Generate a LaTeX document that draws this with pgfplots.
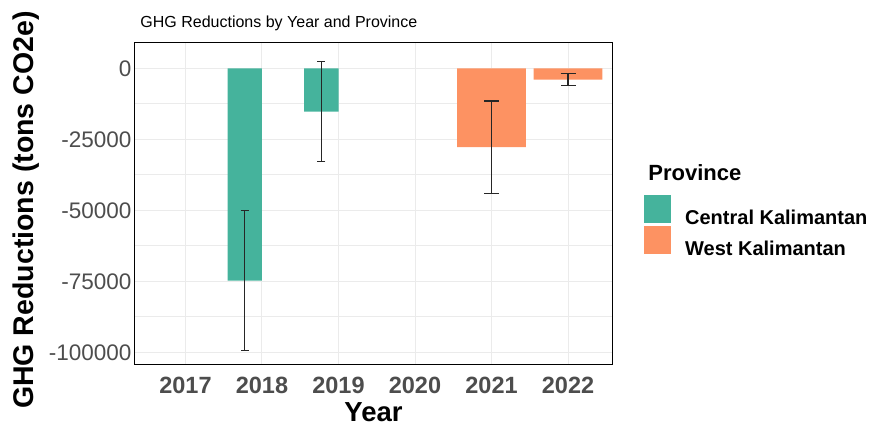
\documentclass[border=0pt]{standalone}
\usepackage{fontspec}
\setmainfont{Liberation Sans}
\usepackage{pgfplots}
\usepackage{pgfplotstable}
\pgfplotsset{compat=1.18}
\definecolor{cgreen}{HTML}{45B39C}
\definecolor{corange}{HTML}{FD9262}
\definecolor{tickgray}{HTML}{4D4D4D}
\definecolor{gridgray}{HTML}{EBEBEB}
\pgfplotstableread{
x y err
2017.775 -74800 24700
2018.775 -15300 17600
}\central
\pgfplotstableread{
x y err
2021 -27800 16300
2022 -4000 2150
}\west
\pgfplotsset{sqlegend/.style={legend image code/.code={\fill[##1,draw=none] (0pt,-5pt) rectangle (27pt,23pt); \path[fill=none,draw=none] (0pt,-5pt) rectangle (41pt,23pt);}}}
\begin{document}
\begin{tikzpicture}
\useasboundingbox (0,0) rectangle (872pt,428pt);
\begin{axis}[
  at={(135pt,63pt)}, anchor=south west,
  scale only axis, width=477pt, height=322pt,
  xmin=2016.34, xmax=2022.575,
  ymin=-104470, ymax=8900,
  scaled x ticks=false, scaled y ticks=false,
  xtick={2017,2018,2019,2020,2021,2022},
  xticklabels={2017,2018,2019,2020,2021,2022},
  ytick={-100000,-75000,-50000,-25000,0},
  yticklabels={-100000,-75000,-50000,-25000,0},
  minor ytick={-87500,-62500,-37500,-12500},
  grid=both,
  major grid style={gridgray, line width=1pt},
  minor grid style={gridgray, line width=0.8pt},
  major tick length=0pt, minor tick length=0pt,
  axis line style={black, line width=1pt},
  xticklabel style={font=\fontsize{23.5}{23.5}\selectfont\bfseries, text=tickgray, anchor=base, yshift=-29pt},
  yticklabel style={font=\fontsize{22.5}{22.5}\selectfont, text=tickgray},
  xlabel={Year},
  xlabel style={font=\fontsize{27.5}{27.5}\selectfont\bfseries, at={(axis description cs:0.5,-0.1770)}, anchor=base, inner sep=0pt},
  ylabel={GHG Reductions (tons CO2e)},
  ylabel style={font=\fontsize{28.5}{28.5}\selectfont\bfseries, at={(axis description cs:-0.2138,0.481)}, anchor=base, rotate=0},
  legend cell align=left,
  legend style={at={(axis description cs:1.067,0.528)}, anchor=north west, draw=none, fill=none,
    inner sep=0pt, row sep=0pt,
    nodes={inner sep=0pt, font=\fontsize{20}{20}\selectfont\bfseries}},
  clip=false,
]
\addplot[ybar, bar width=0.45, bar shift=0pt, fill=cgreen, draw=none, sqlegend,
  error bars/.cd, y dir=both, y explicit,
  error bar style={line width=1.2pt, black!85},
  error mark options={rotate=90, mark size=4pt, line width=1.2pt, black!85}]
  table[x=x, y=y, y error=err] {\central};
\addlegendentry{Central Kalimantan}
\addplot[ybar, bar width=0.9, bar shift=0pt, fill=corange, draw=none, sqlegend,
  error bars/.cd, y dir=both, y explicit,
  error bar style={line width=1.2pt, black!85},
  error mark options={rotate=90, mark size=7.5pt, line width=1.2pt, black!85}]
  table[x=x, y=y, y error=err] {\west};
\addlegendentry{West Kalimantan}
\node[anchor=base west, font=\fontsize{16}{16}\selectfont] at (axis description cs:0.004,1.0466) {GHG Reductions by Year and Province};
\node[anchor=base west, font=\fontsize{22}{22}\selectfont\bfseries] at (axis description cs:1.069,0.5745) {Province};
\end{axis}
\end{tikzpicture}
\end{document}
